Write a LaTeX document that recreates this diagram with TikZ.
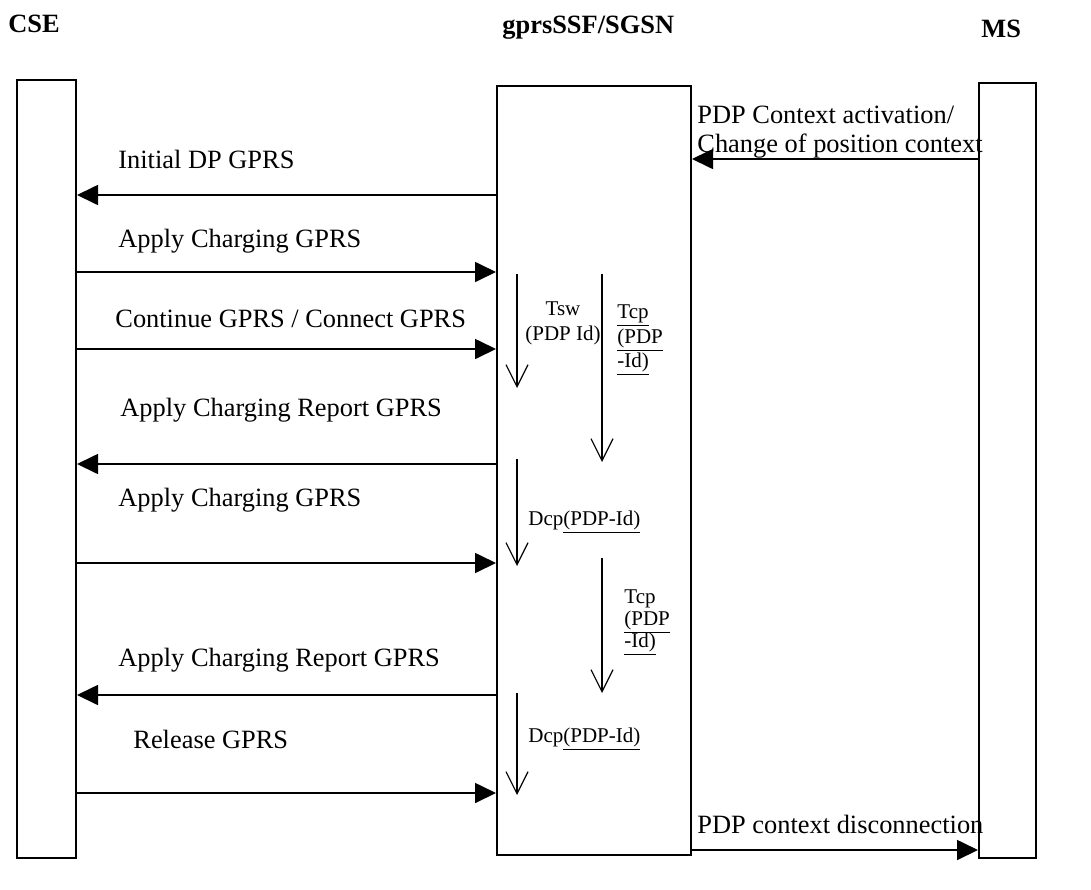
\documentclass[tikz,border=0pt]{standalone}
\usepackage{fontspec}
\setmainfont{Liberation Serif}
\usetikzlibrary{arrows.meta,fit}

\begin{document}
\begin{tikzpicture}[x=0.5pt,y=-0.5pt,
  lifebox/.style={draw, line width=1pt, inner sep=0pt},
  title/.style={font=\fontsize{13.2pt}{16pt}\selectfont\bfseries, anchor=base west, inner sep=0pt},
  msglabel/.style={font=\fontsize{13.2pt}{16pt}\selectfont, anchor=base west, inner sep=0pt},
  timerlabel/.style={font=\fontsize{10.5pt}{12.5pt}\selectfont, anchor=base west, inner sep=0pt},
  msg/.style={line width=0.85pt, -{Triangle[length=10.5pt,width=10pt]}},
  timer/.style={line width=0.6pt, -{Straight Barb[length=11pt,width=11pt]}}]

\useasboundingbox (0,0) rectangle (1091,889);

% entity titles
\node[title] (tcse)  at (8,32)   {CSE};
\node[title] (tsgsn) at (502,33) {gprsSSF/SGSN};
\node[title] (tms)   at (981,37) {MS};

% lifeline boxes
\node[lifebox, fit={(17,80) (76,858)}]   (cse)  {};
\node[lifebox, fit={(497,86) (691,855)}] (sgsn) {};
\node[lifebox, fit={(979,83) (1036,858)}] (ms)  {};

% message levels
\coordinate (y0) at (0,159);
\coordinate (y1) at (0,195);
\coordinate (y2) at (0,272);
\coordinate (y3) at (0,349);
\coordinate (y4) at (0,464);
\coordinate (y5) at (0,563);
\coordinate (y6) at (0,695);
\coordinate (y7) at (0,793);
\coordinate (y8) at (0,850);

% MS -> SGSN
\node[msglabel] (l0a) at (697,123) {PDP Context activation/};
\node[msglabel] (l0b) at (697,152) {Change of position context};
\draw[msg] (ms.west |- y0) -- (sgsn.east |- y0);

% CSE <-> SGSN
\node[msglabel] (l1) at (118,168) {Initial DP GPRS};
\draw[msg] (sgsn.west |- y1) -- (cse.east |- y1);

\node[msglabel] (l2) at (118,247) {Apply Charging GPRS};
\draw[msg] (cse.east |- y2) -- (sgsn.west |- y2);

\node[msglabel] (l3) at (115,327) {Continue GPRS / Connect GPRS};
\draw[msg] (cse.east |- y3) -- (sgsn.west |- y3);

\node[msglabel] (l4) at (120,416) {Apply Charging Report GPRS};
\draw[msg] (sgsn.west |- y4) -- (cse.east |- y4);

\node[msglabel] (l5) at (118,506) {Apply Charging GPRS};
\draw[msg] (cse.east |- y5) -- (sgsn.west |- y5);

\node[msglabel] (l6) at (118,666) {Apply Charging Report GPRS};
\draw[msg] (sgsn.west |- y6) -- (cse.east |- y6);

\node[msglabel] (l7) at (133,748) {Release GPRS};
\draw[msg] (cse.east |- y7) -- (sgsn.west |- y7);

% SGSN -> MS
\node[msglabel] (l8) at (697,833) {PDP context disconnection};
\draw[msg] (sgsn.east |- y8) -- (ms.west |- y8);

% timers inside gprsSSF/SGSN
\coordinate (tsw0) at (517,274);  \coordinate (tsw1) at (517,388);
\coordinate (tcpa0) at (602,274); \coordinate (tcpa1) at (602,462);
\coordinate (dcpa0) at (517,459); \coordinate (dcpa1) at (517,566);
\coordinate (tcpb0) at (602,558); \coordinate (tcpb1) at (602,693);
\coordinate (dcpb0) at (517,693); \coordinate (dcpb1) at (517,795);

\draw[timer] (tsw0) -- (tsw1);
\node[timerlabel, anchor=base] (tswa) at (563,315) {Tsw};
\node[timerlabel] (tswb) at (525,340) {(PDP Id)};

\draw[timer] (tcpa0) -- (tcpa1);
\node[timerlabel] (tcpaa) at (617,318) {\underline{Tcp}};
\node[timerlabel] (tcpab) at (617,343) {\underline{(PDP}};
\node[timerlabel] (tcpac) at (617,367) {\underline{-Id)}};

\draw[timer] (dcpa0) -- (dcpa1);
\node[timerlabel] (dcpal) at (528,525) {Dcp\underline{(PDP-Id)}};

\draw[timer] (tcpb0) -- (tcpb1);
\node[timerlabel] (tcpba) at (624,603) {Tcp};
\node[timerlabel] (tcpbb) at (624,625) {\underline{(PDP}};
\node[timerlabel] (tcpbc) at (624,647) {\underline{-Id)}};

\draw[timer] (dcpb0) -- (dcpb1);
\node[timerlabel] (dcpbl) at (528,742) {Dcp\underline{(PDP-Id)}};
\end{tikzpicture}
\end{document}
